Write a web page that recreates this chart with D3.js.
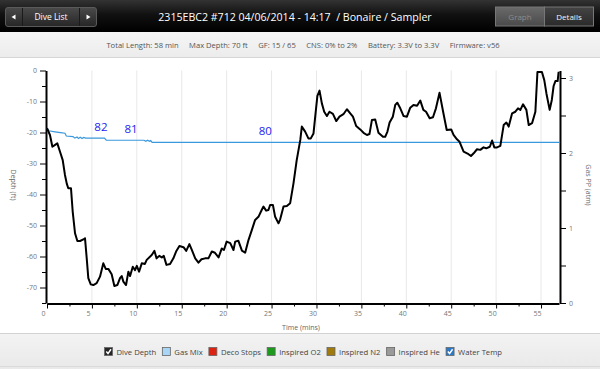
<!DOCTYPE html>
<html><head><meta charset="utf-8">
<script src="https://cdn.jsdelivr.net/npm/d3@7"></script>
<style>
html,body{margin:0;padding:0;background:#fff;}
svg{display:block;font-family:"Open Sans","Noto Sans",sans-serif;}
</style></head><body>
<svg id="c" width="600" height="369"></svg>
<script>
// ---------- DATA ----------
const titleText = "2315EBC2 #712 04/06/2014 - 14:17  / Bonaire / Sampler";
const infoLabels = ["Total Length: 58 min", "Max Depth: 70 ft", "GF: 15 / 65", "CNS: 0% to 2%", "Battery: 3.3V to 3.3V", "Firmware: v56"];
const timeTicks = [0, 5, 10, 15, 20, 25, 30, 35, 40, 45, 50, 55];
const timeMinorTicks = [2.5, 7.5, 12.5, 17.5, 22.5, 27.5, 32.5, 37.5, 42.5, 47.5, 52.5];
const depthTicks = [0, -10, -20, -30, -40, -50, -60, -70];
const depthMinorTicks = [-5, -15, -25, -35, -45, -55, -65, -75];
const ppTicks = [0, 1, 2, 3];
const ppMinorTicks = [0.5, 1.5, 2.5];

const depthTime = [0.0,0.33,0.6,0.9,1.15,1.45,1.75,2.0,2.2,2.37,2.67,2.86,3.12,3.38,3.68,4.05,4.23,4.42,4.6,4.87,5.16,5.53,5.9,6.27,6.54,6.83,7.2,7.5,7.83,8.13,8.32,8.5,8.8,9.06,9.25,9.55,9.8,10.0,10.25,10.55,10.9,11.1,11.66,11.96,12.2,12.5,12.78,13.0,13.3,13.7,14.07,14.37,14.74,15.2,15.5,15.85,16.1,16.5,16.86,17.2,17.6,17.97,18.35,18.7,19.1,19.46,19.7,20.0,20.4,20.76,20.95,21.3,21.7,22.06,22.43,22.8,23.17,23.54,23.9,24.1,24.4,24.65,24.84,25.15,25.4,25.77,25.96,26.33,26.7,27.07,27.44,27.8,28.2,28.37,28.74,29.1,29.37,29.67,29.86,30.1,30.34,30.6,30.86,31.16,31.45,31.83,32.2,32.56,33.0,33.39,33.76,34.06,34.42,34.87,35.24,35.62,35.9,36.17,36.54,36.9,37.4,37.65,37.9,38.14,38.5,38.77,39.0,39.33,39.7,40.07,40.44,40.8,41.2,41.56,41.9,42.2,42.6,42.97,43.3,43.7,44.1,44.5,45.0,45.26,45.64,45.93,46.38,46.93,47.2,47.5,47.87,48.24,48.6,48.9,49.3,49.55,49.8,50.1,50.47,50.84,51.14,51.4,51.78,52.14,52.44,52.7,53.0,53.37,53.63,54.0,54.37,54.6,55.1,55.36,55.6,55.96,56.2,56.4,56.6,56.85,56.96];
const depthValues = [-18.6,-20.8,-24.6,-24.0,-23.5,-26.2,-28.9,-33.7,-36.5,-38.0,-38.0,-45.5,-52.5,-55.0,-55.0,-54.5,-54.1,-60.5,-67.0,-69.0,-69.2,-68.6,-66.5,-62.2,-64.0,-64.0,-65.7,-69.5,-69.2,-67.0,-66.3,-68.1,-69.2,-64.9,-66.3,-63.3,-64.4,-63.0,-64.9,-62.2,-62.4,-61.1,-59.5,-58.2,-60.6,-59.8,-60.3,-59.8,-62.7,-62.4,-60.6,-58.4,-56.6,-57.0,-58.2,-56.0,-57.7,-60.6,-62.0,-60.9,-60.6,-60.6,-58.4,-58.8,-60.3,-57.4,-57.9,-55.2,-55.7,-57.9,-55.2,-54.9,-58.1,-58.8,-54.7,-51.5,-48.2,-47.2,-45.0,-43.9,-45.2,-45.0,-43.4,-43.4,-47.2,-49.3,-48.0,-43.9,-43.7,-42.8,-36.4,-28.9,-22.4,-18.1,-19.7,-21.9,-21.9,-20.3,-14.9,-8.2,-6.5,-10.6,-13.3,-14.7,-13.3,-14.0,-16.3,-14.9,-14.1,-12.5,-13.8,-14.9,-17.9,-19.0,-20.1,-20.8,-20.5,-16.0,-15.8,-20.1,-21.4,-21.4,-19.7,-16.8,-14.9,-11.1,-10.4,-12.2,-14.7,-14.9,-12.0,-11.1,-11.4,-9.7,-12.7,-13.3,-15.4,-15.1,-12.2,-7.2,-13.3,-19.2,-19.0,-20.8,-22.2,-23.0,-26.2,-27.0,-27.6,-26.7,-25.4,-25.6,-24.8,-25.1,-24.6,-22.6,-24.8,-24.8,-24.3,-17.6,-16.8,-18.1,-13.8,-13.3,-12.2,-12.7,-10.9,-12.7,-17.6,-17.0,-13.3,-0.5,-0.5,-3.1,-7.4,-12.7,-9.5,-5.0,-3.4,-3.4,-0.4];

const tempTime = [0,0.2,0.9,1.5,2.0,2.15,2.9,3.1,3.35,3.5,3.7,3.9,4.1,4.3,6.4,6.6,10.8,11.0,11.2,11.4,11.55,11.7,57];
const tempValues = [86.7,85.5,85.0,84.6,84.3,83.0,82.7,82.0,82.5,81.8,82.4,81.8,82.3,82.0,82.0,81.0,81.0,80.5,81.0,80.5,80.9,80.0,80.0];
const tempLabelTime = [6.0, 9.35, 24.3];
const tempLabelValues = [82, 81, 80];

const legendLabels = ["Dive Depth", "Gas Mix", "Deco Stops", "Inspired O2", "Inspired N2", "Inspired He", "Water Temp"];
const legendColors = ["#262626", "#a9d6f7", "#dd2211", "#1b9a1b", "#a07a0c", "#9a9a9a", "#2a78c8"];
const legendChecked = [true, false, false, false, false, false, true];

// ---------- LAYOUT ----------
const svg = d3.select("#c");
const W = 600, H = 369;
const plot = {left: 47, right: 559, top: 70.5, bottom: 303};

const defs = svg.append("defs");
function grad(id, stops) {
  const g = defs.append("linearGradient").attr("id", id).attr("x1", 0).attr("y1", 0).attr("x2", 0).attr("y2", 1);
  stops.forEach(s => g.append("stop").attr("offset", s[0]).attr("stop-color", s[1]));
}
grad("hdr", [[0, "#333"], [0.45, "#111"], [1, "#000"]]);
grad("btn", [[0, "#4a4a4a"], [1, "#262626"]]);
grad("btnG", [[0, "#6a6a6a"], [1, "#4a4a4a"]]);
grad("btnD", [[0, "#444"], [1, "#2a2a2a"]]);
grad("info", [[0, "#f6f6f6"], [1, "#ececec"]]);
grad("leg", [[0, "#f3f3f3"], [1, "#e9e9e9"]]);

// header
svg.append("rect").attr("x", 0).attr("y", 0).attr("width", W).attr("height", 32).attr("fill", "url(#hdr)");
const bl = svg.append("g");
bl.append("rect").attr("x", 5.5).attr("y", 7.5).attr("width", 91).attr("height", 19).attr("rx", 2.5)
  .attr("fill", "url(#btn)").attr("stroke", "#5a5a5a");
bl.append("line").attr("x1", 22.5).attr("x2", 22.5).attr("y1", 8).attr("y2", 26).attr("stroke", "#1a1a1a");
bl.append("line").attr("x1", 79.5).attr("x2", 79.5).attr("y1", 8).attr("y2", 26).attr("stroke", "#1a1a1a");
bl.append("path").attr("d", "M11.5,17 L15.5,14.5 L15.5,19.5 Z").attr("fill", "#fff");
bl.append("path").attr("d", "M90.5,17 L86.5,14.5 L86.5,19.5 Z").attr("fill", "#fff");
bl.append("text").attr("x", 51).attr("y", 20).attr("text-anchor", "middle").attr("fill", "#fff")
  .attr("font-size", 8.5).text("Dive List");
svg.append("text").attr("x", 295).attr("y", 20.5).attr("text-anchor", "middle").attr("fill", "#fff")
  .attr("font-size", 10.6).style("white-space", "pre").text(titleText);
const gd = svg.append("g");
gd.append("rect").attr("x", 495.5).attr("y", 7).attr("width", 49).attr("height", 19).attr("fill", "url(#btnG)").attr("stroke", "#777");
gd.append("rect").attr("x", 544.5).attr("y", 7).attr("width", 49).attr("height", 19).attr("fill", "url(#btnD)").attr("stroke", "#777");
gd.append("text").attr("x", 520).attr("y", 19.5).attr("text-anchor", "middle").attr("fill", "#8c8c8c").attr("font-size", 8).text("Graph");
gd.append("text").attr("x", 569).attr("y", 19.5).attr("text-anchor", "middle").attr("fill", "#f4f4f4").attr("font-size", 8).text("Details");

// info bar
svg.append("rect").attr("x", 0).attr("y", 32).attr("width", W).attr("height", 25).attr("fill", "url(#info)");
svg.append("line").attr("x1", 0).attr("x2", W).attr("y1", 57.5).attr("y2", 57.5).attr("stroke", "#d6d6d6");
const infoG = svg.append("g");
const infoTexts = infoG.selectAll("text").data(infoLabels).join("text")
  .attr("y", 47.5).attr("fill", "#555").attr("font-size", 7.6).text(d => d);
{
  const gap = 10.5;
  const widths = infoTexts.nodes().map(n => n.getComputedTextLength());
  const total = d3.sum(widths) + gap * (widths.length - 1);
  let x = 303 - total / 2;
  infoTexts.attr("x", (d, i) => { const xx = x; x += widths[i] + gap; return xx; });
}

// ---------- SCALES ----------
const x = d3.scaleLinear().domain([0, 57]).range([plot.left, plot.right]);
const y = d3.scaleLinear().domain([0, -75]).range([plot.top, plot.bottom]);
const yPP = d3.scaleLinear().domain([0, 3.1]).range([plot.bottom, plot.top]);
const yTemp = d3.scaleLinear().domain([4, 114]).range([plot.bottom, plot.top]);

svg.append("g").selectAll("line").data(timeTicks.filter(t => t > 0)).join("line")
  .attr("x1", d => x(d)).attr("x2", d => x(d)).attr("y1", plot.top).attr("y2", plot.bottom)
  .attr("stroke", "#e8e8e8").attr("stroke-width", 1);

function styleAxis(g) {
  g.select(".domain").attr("stroke", "#000").attr("stroke-width", 2);
  g.selectAll(".tick line").attr("stroke", "#000").attr("stroke-width", 1);
  g.selectAll(".tick text").attr("fill", "#777").attr("font-size", 7).attr("font-family", "'Open Sans',sans-serif");
}

const gl = svg.append("g").attr("transform", `translate(${plot.left - 1},0)`);
gl.call(d3.axisLeft(y).tickValues(depthTicks).tickSize(6).tickSizeOuter(0).tickPadding(3).tickFormat(d => String(d)));
styleAxis(gl);
const glm = svg.append("g").attr("transform", `translate(${plot.left - 1},0)`);
glm.call(d3.axisLeft(y).tickValues(depthMinorTicks).tickSize(4).tickSizeOuter(0).tickFormat(""));
glm.select(".domain").remove();
glm.selectAll(".tick line").attr("stroke", "#000");

const gr = svg.append("g").attr("transform", `translate(${plot.right + 1},0)`);
gr.call(d3.axisRight(yPP).tickValues(ppTicks).tickSize(6).tickSizeOuter(0).tickPadding(3).tickFormat(d => String(d)));
styleAxis(gr);
const grm = svg.append("g").attr("transform", `translate(${plot.right + 1},0)`);
grm.call(d3.axisRight(yPP).tickValues(ppMinorTicks).tickSize(6).tickSizeOuter(0).tickFormat(""));
grm.select(".domain").remove();
grm.selectAll(".tick line").attr("stroke", "#000");

const gb = svg.append("g").attr("transform", `translate(0,${plot.bottom + 0.5})`);
gb.call(d3.axisBottom(x).tickValues(timeTicks).tickSize(5).tickSizeOuter(0).tickPadding(3).tickFormat(d => String(d)));
styleAxis(gb);
gb.selectAll(".tick text").attr("dx", -4);
const gbm = svg.append("g").attr("transform", `translate(0,${plot.bottom + 0.5})`);
gbm.call(d3.axisBottom(x).tickValues(timeMinorTicks).tickSize(3).tickSizeOuter(0).tickFormat(""));
gbm.select(".domain").remove();
gbm.selectAll(".tick line").attr("stroke", "#000");

svg.append("text").attr("transform", "translate(11,185) rotate(90)").attr("text-anchor", "middle")
  .attr("fill", "#666").attr("font-size", 7).text("Depth (ft)");
svg.append("text").attr("transform", "translate(586,185) rotate(90)").attr("text-anchor", "middle")
  .attr("fill", "#666").attr("font-size", 7).text("Gas PP (atm)");
svg.append("text").attr("x", 301).attr("y", 330).attr("text-anchor", "middle")
  .attr("fill", "#666").attr("font-size", 7).text("Time (mins)");

const tempData = tempTime.map((t, i) => [t, tempValues[i]]);
svg.append("path").datum(tempData)
  .attr("d", d3.line().x(d => x(d[0])).y(d => yTemp(d[1])))
  .attr("fill", "none").attr("stroke", "#3a98dc").attr("stroke-width", 1.2);
svg.append("g").selectAll("text").data(tempLabelTime.map((t, i) => [t, tempLabelValues[i]])).join("text")
  .attr("x", d => x(d[0])).attr("y", d => yTemp(d[1]) - 7)
  .attr("text-anchor", "middle").attr("fill", "#1c1cf0").attr("font-size", 11.5)
  .text(d => d[1]);

const depthData = depthTime.map((t, i) => [t, depthValues[i]]);
svg.append("path").datum(depthData)
  .attr("d", d3.line().x(d => x(d[0])).y(d => y(d[1])))
  .attr("fill", "none").attr("stroke", "#000").attr("stroke-width", 2).attr("stroke-linejoin", "round");

// legend bar
svg.append("rect").attr("x", 0).attr("y", 333).attr("width", W).attr("height", 36).attr("fill", "url(#leg)");
svg.append("line").attr("x1", 0).attr("x2", W).attr("y1", 333.5).attr("y2", 333.5).attr("stroke", "#d2d2d2");
svg.append("line").attr("x1", 0).attr("x2", W).attr("y1", 366.5).attr("y2", 366.5).attr("stroke", "#dadada");
const legG = svg.append("g");
const items = legG.selectAll("g").data(legendLabels).join("g");
items.append("rect").attr("x", 0.5).attr("y", 347.5).attr("width", 8).attr("height", 8)
  .attr("fill", (d, i) => legendColors[i]).attr("stroke", "#666").attr("stroke-width", 0.8);
items.filter((d, i) => legendChecked[i]).append("path")
  .attr("d", "M2.3,351.6 L4,353.6 L7,349.3").attr("fill", "none").attr("stroke", "#fff").attr("stroke-width", 1.5);
const legTexts = items.append("text").attr("x", 12.5).attr("y", 354.7).attr("fill", "#444").attr("font-size", 7.7)
  .text(d => d);
{
  const target = 398;
  const gapMin = 7.5;
  const widths = legTexts.nodes().map(n => 12.5 + n.getComputedTextLength());
  let gap = (target - d3.sum(widths)) / (widths.length - 1);
  if (gap < 5) gap = 5;
  const total = d3.sum(widths) + gap * (widths.length - 1);
  let xx = 303 - total / 2;
  items.attr("transform", (d, i) => { const p = xx; xx += widths[i] + gap; return `translate(${p},0)`; });
}
</script>
</body></html>
